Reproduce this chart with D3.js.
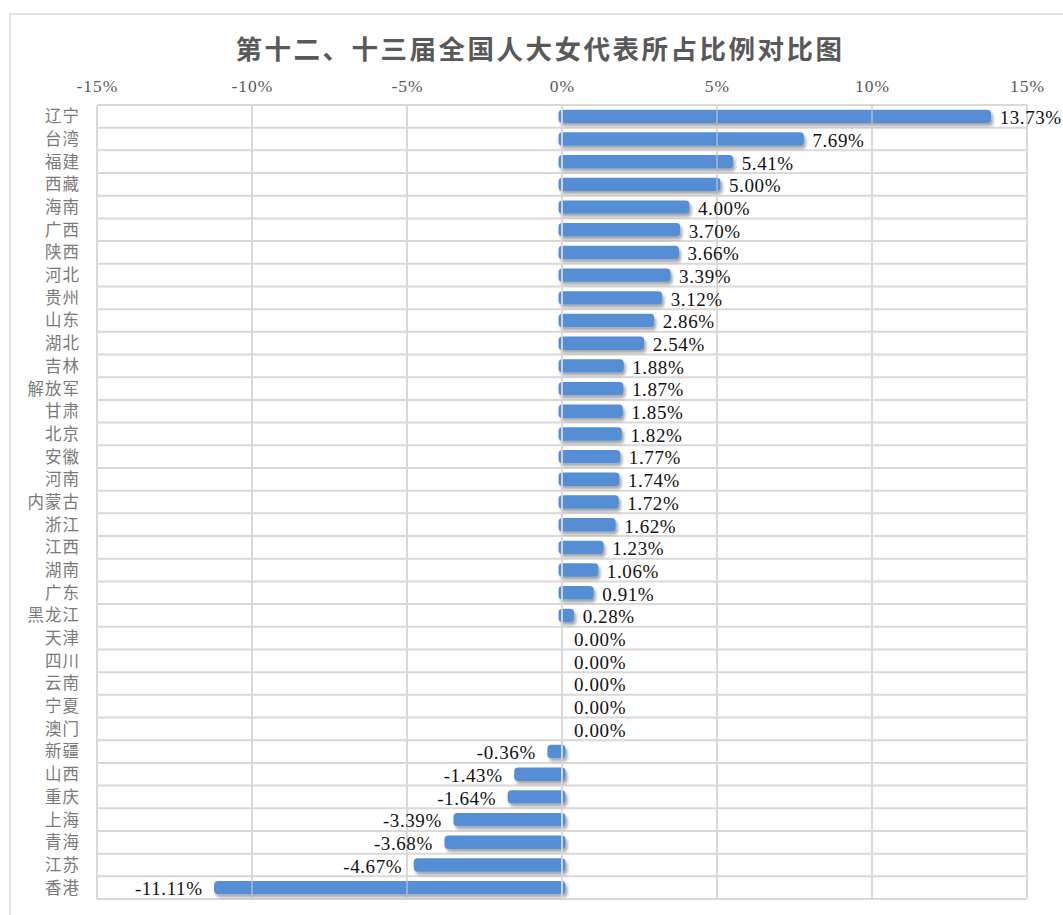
<!DOCTYPE html>
<html>
<head>
<meta charset="utf-8">
<script src="https://cdn.jsdelivr.net/npm/d3@7"></script>
<style>
  body { margin: 0; background: #fff; }
</style>
</head>
<body>
<div id="chart"></div>
<script>
const provinces = ['辽宁', '台湾', '福建', '西藏', '海南', '广西', '陕西', '河北', '贵州', '山东',
  '湖北', '吉林', '解放军', '甘肃', '北京', '安徽', '河南', '内蒙古', '浙江', '江西',
  '湖南', '广东', '黑龙江', '天津', '四川', '云南', '宁夏', '澳门', '新疆', '山西',
  '重庆', '上海', '青海', '江苏', '香港'];
const changes = [13.73, 7.69, 5.41, 5.00, 4.00, 3.70, 3.66, 3.39, 3.12, 2.86,
  2.54, 1.88, 1.87, 1.85, 1.82, 1.77, 1.74, 1.72, 1.62, 1.23,
  1.06, 0.91, 0.28, 0, 0, 0, 0, 0, -0.36, -1.43,
  -1.64, -3.39, -3.68, -4.67, -11.11];
const tickValues = [-15, -10, -5, 0, 5, 10, 15];

const rows = provinces.map((name, i) => ({ name, value: changes[i] }));

const width = 1063;
const height = 915;
const plot = { left: 97, right: 1027, top: 105, bottom: 899 };

const svg = d3.select('#chart').append('svg')
  .attr('width', width)
  .attr('height', height);

// drop shadow like the office chart
const shadow = svg.append('defs').append('filter')
  .attr('id', 'shadow')
  .attr('x', '-10%').attr('y', '-50%')
  .attr('width', '130%').attr('height', '220%');
shadow.append('feDropShadow')
  .attr('dx', 2).attr('dy', 3)
  .attr('stdDeviation', 1.8)
  .attr('flood-color', '#000')
  .attr('flood-opacity', 0.35);

// outer frame
svg.append('rect')
  .attr('x', 10).attr('y', 14)
  .attr('width', 1200).attr('height', 1000)
  .attr('fill', 'none')
  .attr('stroke', '#d9d9d9').attr('stroke-width', 1.5);

svg.append('text')
  .attr('x', 540).attr('y', 59)
  .attr('text-anchor', 'middle')
  .attr('font-family', '"Noto Sans CJK SC", sans-serif')
  .attr('font-weight', 'bold')
  .attr('font-size', 26.5)
  .attr('letter-spacing', 2.5)
  .attr('fill', '#595959')
  .text('第十二、十三届全国人大女代表所占比例对比图');

const x = d3.scaleLinear()
  .domain([-15, 15])
  .range([plot.left, plot.right]);

const y = d3.scaleBand()
  .domain(provinces)
  .range([plot.top, plot.bottom])
  .paddingInner(0.41)
  .paddingOuter(0.205);

const rowStep = (plot.bottom - plot.top) / provinces.length;

// horizontal row separators
svg.append('g')
  .selectAll('line')
  .data(d3.range(provinces.length + 1))
  .join('line')
    .attr('x1', plot.left).attr('x2', plot.right)
    .attr('y1', i => plot.top + i * rowStep)
    .attr('y2', i => plot.top + i * rowStep)
    .attr('stroke', '#d9d9d9').attr('stroke-width', 2);

// vertical grid under the bars
svg.append('g')
  .selectAll('line')
  .data(tickValues)
  .join('line')
    .attr('x1', d => x(d)).attr('x2', d => x(d))
    .attr('y1', plot.top).attr('y2', plot.bottom)
    .attr('stroke', '#d9d9d9').attr('stroke-width', 2);

const pad = 3.5;
svg.append('g')
  .attr('filter', 'url(#shadow)')
  .selectAll('rect')
  .data(rows.filter(d => d.value !== 0))
  .join('rect')
    .attr('x', d => x(Math.min(0, d.value)) - pad)
    .attr('y', d => y(d.name))
    .attr('width', d => Math.abs(x(d.value) - x(0)) + 2 * pad)
    .attr('height', y.bandwidth())
    .attr('rx', 4)
    .attr('fill', '#558ed5');

// the grid shows through the bars a little
svg.append('g')
  .selectAll('line')
  .data(tickValues.slice(1, -1))
  .join('line')
    .attr('x1', d => x(d)).attr('x2', d => x(d))
    .attr('y1', plot.top).attr('y2', plot.bottom)
    .attr('stroke', '#d9d9d9')
    .attr('stroke-opacity', d => d === 0 ? 0.9 : 0.45)
    .attr('stroke-width', 2);

// value labels
svg.append('g')
  .selectAll('text')
  .data(rows)
  .join('text')
    .attr('x', d => d.value < 0 ? x(d.value) - 15 : x(d.value) + 12)
    .attr('y', d => y(d.name) + y.bandwidth() / 2 + 1)
    .attr('dy', '0.36em')
    .attr('text-anchor', d => d.value < 0 ? 'end' : 'start')
    .attr('font-family', '"Liberation Serif", serif')
    .attr('font-size', 19)
    .attr('letter-spacing', 0.6)
    .attr('fill', '#111')
    .text(d => d.value.toFixed(2) + '%');

// category labels
svg.append('g')
  .selectAll('text')
  .data(rows)
  .join('text')
    .attr('x', 80)
    .attr('y', d => y(d.name) + y.bandwidth() / 2)
    .attr('dy', '0.36em')
    .attr('text-anchor', 'end')
    .attr('font-family', '"Noto Sans CJK SC", sans-serif')
    .attr('font-size', 16.5)
    .attr('letter-spacing', 1)
    .attr('fill', '#7a7a7a')
    .text(d => d.name);

// top axis
const axis = svg.append('g')
  .attr('transform', `translate(0,${plot.top - 10})`)
  .call(d3.axisTop(x).tickValues(tickValues).tickSize(0).tickFormat(d => d + '%'));
axis.select('.domain').remove();
axis.selectAll('text')
  .attr('font-family', '"Liberation Serif", serif')
  .attr('font-size', 17.5)
  .attr('letter-spacing', 1)
  .attr('fill', '#595959');
</script>
</body>
</html>
